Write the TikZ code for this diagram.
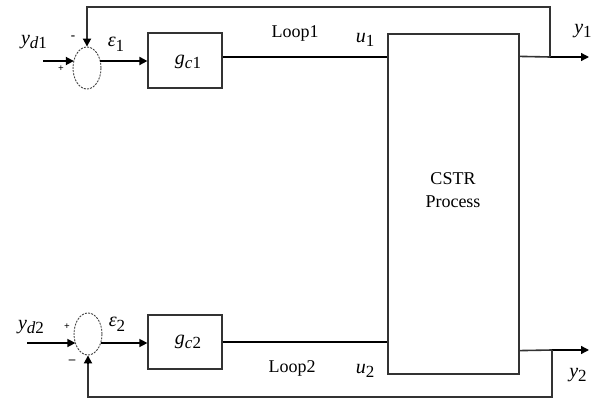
\documentclass[tikz,border=0pt]{standalone}
\usepackage{fontspec}
\setmainfont{Liberation Serif}
\usetikzlibrary{shapes.geometric,arrows.meta,calc}
\newcommand\lsub[1]{\raisebox{-0.5ex}{\fontsize{17}{17}\selectfont #1}}
\begin{document}
\begin{tikzpicture}[x=1pt,y=-1pt,
  sum/.style={ellipse,draw=black!75,dash pattern=on 2pt off 1.2pt,line width=0.9pt,minimum width=28pt,minimum height=42pt,inner sep=0pt},
  blk/.style={rectangle,draw=black!80,line width=1.2pt,inner sep=0pt},
  arr/.style={line width=1.8pt,-{Triangle[length=8pt,width=8pt]}},
  sig/.style={line width=2.2pt},
  fb/.style={line width=1.6pt,draw=black!80},
  lbl/.style={font=\fontsize{18}{21}\selectfont,inner sep=0pt},
  mlbl/.style={font=\fontsize{20}{22}\selectfont,inner sep=0pt},
  sgn/.style={font=\fontsize{13}{14}\selectfont\bfseries,inner sep=0pt}]
\useasboundingbox (0,0) rectangle (595,401);
% blocks
\node[sum] (s1) at (87,68) {};
\node[sum] (s2) at (88,334) {};
\node[blk,minimum width=74pt,minimum height=55pt] (g1) at (185,60.5) {};
\node[blk,minimum width=74pt,minimum height=54pt] (g2) at (185,342) {};
\node[blk,minimum width=131pt,minimum height=340pt] (P) at (453.5,204) {};
\node[lbl,align=center] (ptxt) at (453,190) {CSTR\\[2pt]Process};
\node[mlbl] (g1t) at (188,62) {\textit{g}\lsub{\textit{c}1}};
\node[mlbl] (g2t) at (188,342) {\textit{g}\lsub{\textit{c}2}};
% coordinates
\coordinate (in1) at (43,61);
\coordinate (in2) at (27,343);
\coordinate (o1) at (589,57);
\coordinate (o2) at (589,350);
\coordinate (b1) at (550,57);
\coordinate (b2) at (552,350);
\coordinate (t1) at (550,7);
\coordinate (t2) at (552,397);
% loop 1
\draw[arr] (in1) -- ($(s1.center)+(-13.2,-7)$);
\draw[arr] ($(s1.center)+(13.2,-7)$) coordinate (e1) -- (e1 -| g1.west);
\draw[sig] ([yshift=3.5pt]g1.east) coordinate (u1s) -- (u1s -| P.west);
\draw[fb] ([yshift=-23pt]P.north east) coordinate (y1s) -- (b1);
\draw[arr,line width=1.4pt] (b1) -- (o1);
\draw[fb] (b1) -- (t1) -| ([yshift=8pt]s1.north) coordinate (f1);
\draw[arr] (f1) -- (s1.north);
% loop 2
\draw[arr,line width=1.4pt] (in2) -- ($(s2.center)+(-12.6,9)$);
\draw[arr,line width=1.4pt] ($(s2.center)+(12.6,9)$) coordinate (e2) -- (e2 -| g2.west);
\draw[sig] (g2.east) -- (g2.east -| P.west);
\draw[fb] ([yshift=24pt]P.south east) coordinate (y2s) -- (b2);
\draw[arr,line width=1.4pt] (b2) -- (o2);
\draw[fb] (b2) -- (t2) -| ([yshift=-8pt]s2.south) coordinate (f2);
\draw[arr] (f2) -- (s2.south);
% labels
\node[mlbl] (yd1) at (34,42) {\textit{y}\lsub{\textit{d}1}};
\node[mlbl] (yd2) at (31,327) {\textit{y}\lsub{\textit{d}2}};
\node[mlbl] (eps1) at (116,44) {\textit{ε}\lsub{1}};
\node[mlbl] (eps2) at (117,324) {\textit{ε}\lsub{2}};
\node[sgn] (m1) at (73,38) {-};
\node[sgn] (p1) at (61,69) {\fontsize{10}{10}\selectfont +};
\node[sgn] (p2) at (67,327) {\fontsize{10}{10}\selectfont +};
\node[sgn] (m2) at (72,362) {--};
\node[lbl] (loop1) at (295,33) {Loop1};
\node[lbl] (loop2) at (292,368) {Loop2};
\node[mlbl] (u1) at (365,40) {\textit{u}\lsub{1}};
\node[mlbl] (u2) at (365,371) {\textit{u}\lsub{2}};
\node[mlbl] (y1) at (583,31) {\textit{y}\lsub{1}};
\node[mlbl] (y2) at (578,375) {\textit{y}\lsub{2}};
\end{tikzpicture}
\end{document}
